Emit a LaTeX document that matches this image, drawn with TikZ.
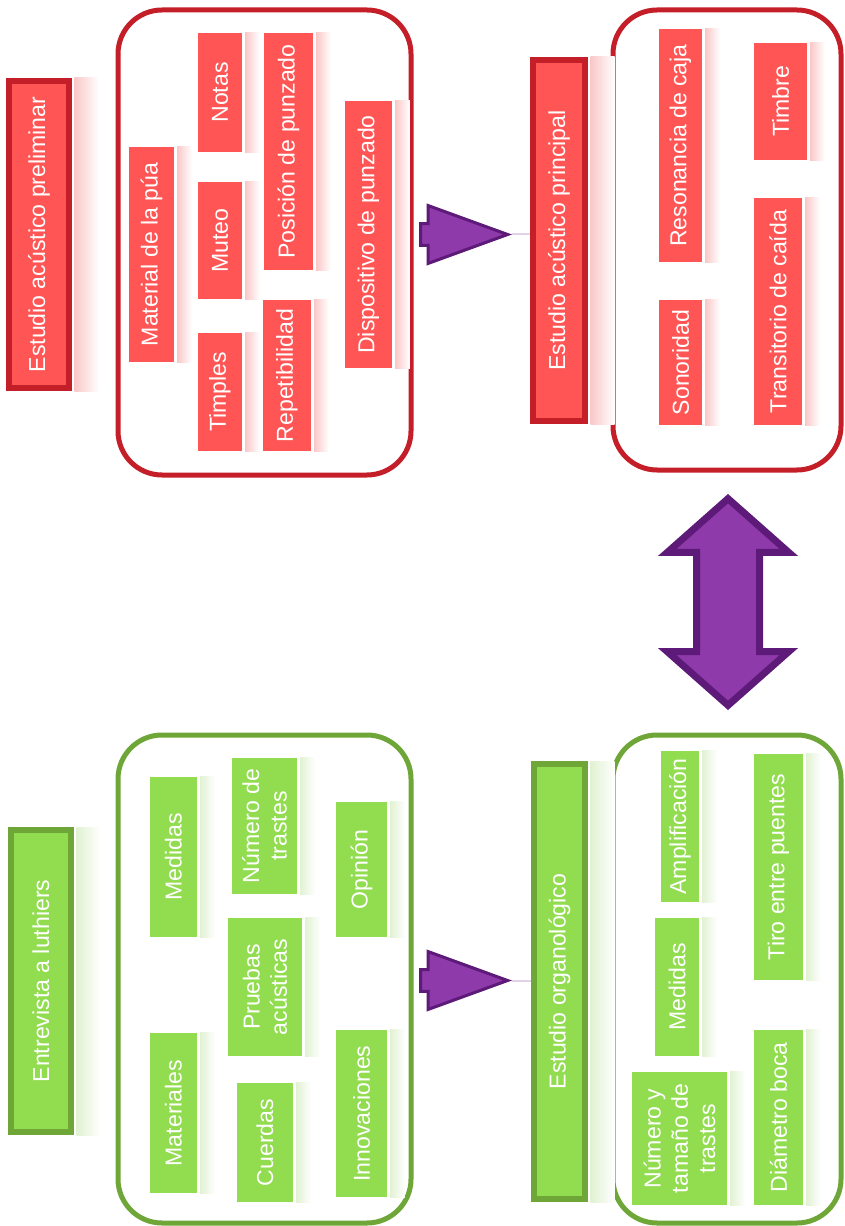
\documentclass[tikz,border=0pt]{standalone}
\usepackage{fontspec}
\setsansfont{Liberation Sans}
\usetikzlibrary{shapes.arrows}

\newcommand{\lblfont}{\sffamily\fontsize{17.3}{20.5}\selectfont}

\tikzset{every picture/.style={line width=0.75pt}}
\tikzset{
  redbox/.style={rotate=90, fill={rgb, 255:red, 255; green, 85; blue, 85}, text=white, inner sep=0pt, align=center, font=\lblfont},
  redtitle/.style={redbox, draw={rgb, 255:red, 196; green, 30; blue, 40}, line width=4.5pt},
  greenbox/.style={rotate=90, fill={rgb, 255:red, 146; green, 220; blue, 80}, text=white, inner sep=0pt, align=center, font=\lblfont},
  greentitle/.style={greenbox, draw={rgb, 255:red, 110; green, 166; blue, 56}, line width=4.5pt},
  redgroup/.style={draw={rgb, 255:red, 196; green, 30; blue, 40}, line width=3.75pt, rounded corners=33pt},
  greengroup/.style={draw={rgb, 255:red, 110; green, 166; blue, 56}, line width=3.75pt, rounded corners=33pt},
  redrefl/.style={left color={rgb, 255:red, 250; green, 200; blue, 200}, right color=white},
  greenrefl/.style={left color={rgb, 255:red, 225; green, 242; blue, 210}, right color=white},
  stepArrow/.style={single arrow, anchor=tip, single arrow tip angle=40, single arrow head extend=13.5pt, minimum width=41.25pt, minimum height=65.25pt, inner xsep=0pt, inner ysep=7.1pt, fill={rgb, 255:red, 142; green, 58; blue, 170}, draw={rgb, 255:red, 94; green, 26; blue, 120}, line width=2.25pt},
  linkArrow/.style={double arrow, rotate=90, double arrow tip angle=97, double arrow head extend=22pt, minimum width=86pt, minimum height=155pt, inner xsep=0pt, inner ysep=21pt, fill={rgb, 255:red, 142; green, 58; blue, 170}, draw={rgb, 255:red, 94; green, 26; blue, 120}, line width=5.25pt}
}

\begin{document}
\begin{tikzpicture}[x=0.75pt,y=0.75pt,yscale=-1,xscale=1]
  \useasboundingbox (0,0) rectangle (844,1226);

  %Shape: Rounded Rect [preliminar group]
  \draw [redgroup] (118,10) rectangle (411,475);
  %Shape: Rounded Rect [principal group]
  \draw [redgroup] (613,10) rectangle (841,470);
  %Shape: Rounded Rect [luthiers group]
  \draw [greengroup] (118,735) rectangle (411,1223);
  %Shape: Rounded Rect [organologico group]
  \draw [greengroup] (613,735) rectangle (841,1223);

  % Title Nodes
  \node [redtitle, minimum width=230.25pt, minimum height=45pt] (pre) at (39,234.5) {Estudio acústico preliminar};
  \node [redtitle, minimum width=270.75pt, minimum height=39pt] (pri) at (559,240.5) {Estudio acústico principal};
  \node [greentitle, minimum width=226.5pt, minimum height=45pt] (ent) at (41,981) {Entrevista a luthiers};
  \node [greentitle, minimum width=326.25pt, minimum height=38.25pt] (org) at (559.5,981.5) {Estudio organológico};

  % Text Nodes: preliminar
  \node [redbox, minimum width=161.25pt, minimum height=33.75pt] (pua) at (151.5,254.5) {Material de la púa};
  \node [redbox, minimum width=89.25pt, minimum height=33pt] (notas) at (220,92.5) {Notas};
  \node [redbox, minimum width=87.75pt, minimum height=33pt] (muteo) at (220,240.5) {Muteo};
  \node [redbox, minimum width=88.5pt, minimum height=33pt] (timples) at (220,392) {Timples};
  \node [redbox, minimum width=177.75pt, minimum height=36.75pt] (posicion) at (288.5,151.5) {Posición de punzado};
  \node [redbox, minimum width=113.25pt, minimum height=36pt] (repet) at (287,375.5) {Repetibilidad};
  \node [redbox, minimum width=200.25pt, minimum height=35.25pt] (dispo) at (368.5,234.5) {Dispositivo de punzado};

  % Text Nodes: principal
  \node [redbox, minimum width=174.75pt, minimum height=32.25pt] (reson) at (680.5,145.5) {Resonancia de caja};
  \node [redbox, minimum width=93.75pt, minimum height=32.25pt] (sonor) at (680.5,362.5) {Sonoridad};
  \node [redbox, minimum width=87.75pt, minimum height=39.75pt] (timbre) at (780.5,101.5) {Timbre};
  \node [redbox, minimum width=170.25pt, minimum height=36pt] (trans) at (778,311.5) {Transitorio de caída};

  % Text Nodes: luthiers
  \node [greenbox, minimum width=120pt, minimum height=35.25pt] (medidasA) at (173.5,857) {Medidas};
  \node [greenbox, minimum width=120pt, minimum height=35.25pt] (materiales) at (173.5,1113) {Materiales};
  \node [greenbox, minimum width=102pt, minimum height=48.75pt] (numtrastes) at (264.5,826) {Número de\\trastes};
  \node [greenbox, minimum width=103.5pt, minimum height=55.5pt] (pruebas) at (265,987) {Pruebas\\acústicas};
  \node [greenbox, minimum width=89.25pt, minimum height=42pt] (cuerdas) at (265,1142.5) {Cuerdas};
  \node [greenbox, minimum width=101.25pt, minimum height=38.25pt] (opinion) at (361.5,869.5) {Opinión};
  \node [greenbox, minimum width=125.25pt, minimum height=38.25pt] (innov) at (361.5,1113.5) {Innovaciones};

  % Text Nodes: organologico
  \node [greenbox, minimum width=113.25pt, minimum height=28.5pt] (ampli) at (680,826.5) {Amplificación};
  \node [greenbox, minimum width=103.5pt, minimum height=33pt] (medidasB) at (677,987) {Medidas};
  \node [greenbox, minimum width=99.75pt, minimum height=71.25pt] (tamtrastes) at (679.5,1138.5) {Número y\\tamaño de\\trastes};
  \node [greenbox, minimum width=169.5pt, minimum height=36.75pt] (tiro) at (778.5,867) {Tiro entre puentes};
  \node [greenbox, minimum width=131.25pt, minimum height=36.75pt] (boca) at (778.5,1117.5) {Diámetro boca};

  % Reflections
  \foreach \n/\w in {pre/18pt,pri/18pt,pua/11pt,notas/11pt,muteo/11pt,timples/11pt,posicion/11pt,repet/11pt,dispo/11pt,reson/11pt,sonor/11pt,timbre/11pt,trans/11pt}
    \shade [redrefl] ([xshift=2pt]\n.south east) rectangle ([xshift=2pt+\w]\n.south west);
  \foreach \n/\w in {ent/18pt,org/18pt,medidasA/11pt,materiales/11pt,numtrastes/11pt,pruebas/11pt,cuerdas/11pt,opinion/11pt,innov/11pt,ampli/11pt,medidasB/11pt,tamtrastes/11pt,tiro/11pt,boca/11pt}
    \shade [greenrefl] ([xshift=2pt]\n.south east) rectangle ([xshift=2pt+\w]\n.south west);

  % Arrows
  \node [stepArrow] (a1) at (512,234.5) {};
  \node [stepArrow] (a2) at (512,980.5) {};
  \node [linkArrow] (link) at (728,602) {};
  \draw [color={rgb, 255:red, 225; green, 210; blue, 232}, line width=1.5pt] (a1.tip) -- (pri.north |- a1.tip);
  \draw [color={rgb, 255:red, 225; green, 210; blue, 232}, line width=1.5pt] (a2.tip) -- (org.north |- a2.tip);

\end{tikzpicture}
\end{document}
